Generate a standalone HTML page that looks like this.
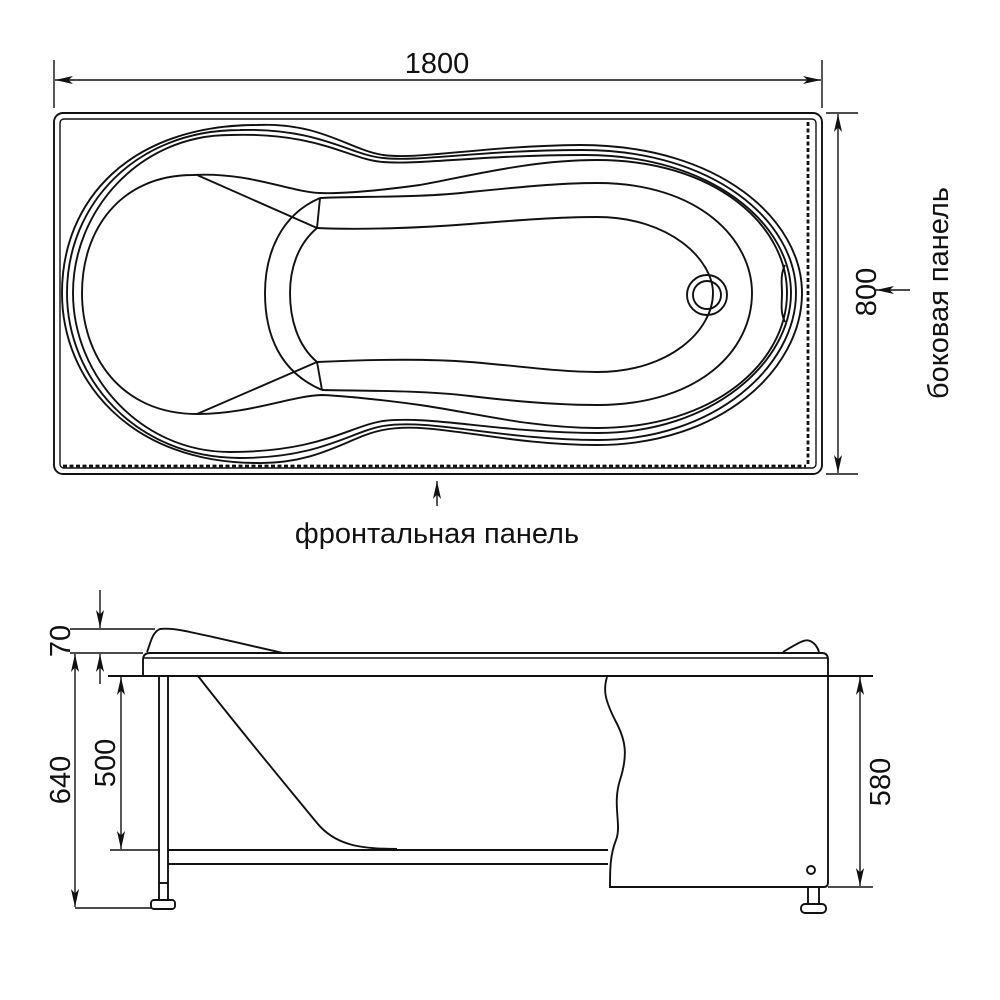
<!DOCTYPE html>
<html><head><meta charset="utf-8"><style>
html,body{margin:0;padding:0;background:#fff;}
svg{display:block;}
text{font-family:"Liberation Sans","DejaVu Sans",sans-serif;fill:#111;}
</style></head><body>
<svg width="1000" height="1000" viewBox="0 0 1000 1000" xmlns="http://www.w3.org/2000/svg">
<defs>
<marker id="ar" viewBox="0 0 20 10" refX="20" refY="5" markerWidth="18" markerHeight="9" markerUnits="userSpaceOnUse" orient="auto-start-reverse">
<path d="M0,0.5 L20,5 L0,9.5 L5,5 Z" fill="#111"/></marker>
</defs>
<g fill="none" stroke="#111" stroke-width="1.9">
<rect x="54" y="113" width="768" height="361" rx="9"/>
<rect x="60" y="119" width="756" height="349" rx="4" stroke-width="1.4"/>
<line x1="63" y1="466" x2="806" y2="466" stroke-width="2.8" stroke-dasharray="4,2.5"/>
<line x1="808" y1="122" x2="808" y2="464" stroke-width="2.8" stroke-dasharray="4,2.5"/>
<path d="M257,125 C320,122 350,150 383,155 C420,160 480,146 580,145 C720,145 802,220 802,293 C802,370 720,445 597,445 C500,445 430,420 383,430 C350,436 320,464 257,463 C130,463 62,380 62,293 C62,200 130,125 257,125 Z"/>
<path d="M240,130 C320,128 350,155 383,158 C420,162 480,150 582,150 C715,150 796,222 796,293 C796,366 715,440 598,440 C500,440 430,418 383,426 C350,432 320,458 240,458 C135,458 67,378 67,293 C67,205 135,130 240,130 Z"/>
<path d="M230,135 C320,132 350,160 383,162 C420,165 480,155 585,155 C712,155 791,224 791,293 C791,362 712,433 598,433 C500,433 430,415 383,421 C350,426 320,452 230,452 C140,452 73,375 73,293 C73,210 140,135 230,135 Z"/>
<path d="M193,175 C250,172 290,192 320,193 C345,194 383,190 420,185 C470,176 530,160 597,160 C715,160 787,225 787,293 C787,362 715,428 597,428 C530,428 470,412 420,405 C383,400 345,396 322,395 C290,396 250,414 197,414 C120,414 82,355 82,293 C82,230 120,175 193,175 Z"/>
<path d="M320,198 C360,196 420,198 470,192 C520,187 560,183 597,183 C700,183 752,240 752,293 C752,350 700,405 597,405 C560,405 520,402 470,396 C420,390 360,391 322,390"/>
<path d="M317,228 C360,230 420,228 470,224 C520,220 560,217 597,217 C670,217 713,260 713,293 C713,330 670,372 597,372 C560,372 520,366 470,362 C420,358 360,360 317,362"/>
<path d="M320,198 C280,215 265,255 265,293 C265,335 280,372 322,390"/>
<path d="M317,228 C297,245 290,270 290,293 C290,318 297,345 317,362"/>
<line x1="197" y1="175" x2="317" y2="228"/>
<line x1="197" y1="414" x2="317" y2="362"/>
<line x1="317" y1="228" x2="320" y2="198"/>
<line x1="317" y1="362" x2="322" y2="390"/>
<path d="M785,265 C780,275 782,285 782,293 C782,303 780,312 785,322"/>
<circle cx="707" cy="295" r="20"/>
<circle cx="707" cy="295" r="14"/>
<line x1="54" y1="60" x2="54" y2="108" stroke-width="1.4"/>
<line x1="822" y1="60" x2="822" y2="108" stroke-width="1.4"/>
<line x1="55" y1="80" x2="821" y2="80" stroke-width="1.4" marker-start="url(#ar)" marker-end="url(#ar)"/>
<line x1="826" y1="113" x2="858" y2="113" stroke-width="1.4"/>
<line x1="826" y1="474" x2="858" y2="474" stroke-width="1.4"/>
<line x1="838" y1="114" x2="838" y2="473" stroke-width="1.4" marker-start="url(#ar)" marker-end="url(#ar)"/>
<line x1="910" y1="290" x2="876" y2="290" stroke-width="1.4" marker-end="url(#ar)"/>
<line x1="437" y1="506" x2="437" y2="481" stroke-width="1.4" marker-end="url(#ar)"/>
<path d="M143,676 L143,660 Q143,653 150,653 L822,653 Q828,653 828,660 L828,676"/>
<line x1="143" y1="658" x2="828" y2="658" stroke-width="1.4"/>
<line x1="108" y1="676" x2="873" y2="676"/>
<path d="M147,652 C150,645 152,632 160,629 C175,627 190,632 283,653"/>
<path d="M783,652 C795,645 805,638 810,641 C815,643 818,648 819,652"/>
<path d="M198,676 C240,730 290,790 317,823 C335,845 360,849 397,849"/>
<rect x="159" y="676" width="9" height="224"/>
<line x1="159" y1="883" x2="168" y2="883"/>
<rect x="151" y="900" width="24" height="9" rx="3"/>
<line x1="168" y1="850" x2="608" y2="850"/>
<line x1="168" y1="864" x2="608" y2="864"/>
<line x1="110" y1="850" x2="160" y2="850" stroke-width="1.4"/>
<path d="M607,677 C603,690 605,700 615,720 C626,740 628,755 620,780 C612,805 622,825 616,840 C610,855 610,870 610,887 L824,887 Q828,887 828,882 L828,676"/>
<circle cx="811" cy="870" r="4"/>
<rect x="808" y="887" width="11" height="17"/>
<rect x="801" y="904" width="25" height="9" rx="4"/>
<line x1="70" y1="629" x2="155" y2="629" stroke-width="1.4"/>
<line x1="70" y1="653" x2="143" y2="653" stroke-width="1.4"/>
<line x1="100" y1="590" x2="100" y2="628" stroke-width="1.4" marker-end="url(#ar)"/>
<line x1="100" y1="684" x2="100" y2="654" stroke-width="1.4" marker-end="url(#ar)"/>
<line x1="75" y1="654" x2="75" y2="907" stroke-width="1.4" marker-start="url(#ar)" marker-end="url(#ar)"/>
<line x1="75" y1="908" x2="152" y2="908" stroke-width="1.4"/>
<line x1="121" y1="677" x2="121" y2="849" stroke-width="1.4" marker-start="url(#ar)" marker-end="url(#ar)"/>
<line x1="828" y1="887" x2="873" y2="887" stroke-width="1.4"/>
<line x1="860" y1="677" x2="860" y2="886" stroke-width="1.4" marker-start="url(#ar)" marker-end="url(#ar)"/>
</g>
<text x="437" y="73" font-size="29" text-anchor="middle">1800</text>
<text transform="translate(876,292) rotate(-90)" font-size="29" text-anchor="middle">800</text>
<text transform="translate(948,293) rotate(-90)" font-size="29" text-anchor="middle">боковая панель</text>
<text x="437" y="543" font-size="29" text-anchor="middle">фронтальная панель</text>
<text transform="translate(70,641) rotate(-90)" font-size="29" text-anchor="middle">70</text>
<text transform="translate(70,780) rotate(-90)" font-size="29" text-anchor="middle">640</text>
<text transform="translate(115,763) rotate(-90)" font-size="29" text-anchor="middle">500</text>
<text transform="translate(890,782) rotate(-90)" font-size="29" text-anchor="middle">580</text>
</svg>
</body></html>
